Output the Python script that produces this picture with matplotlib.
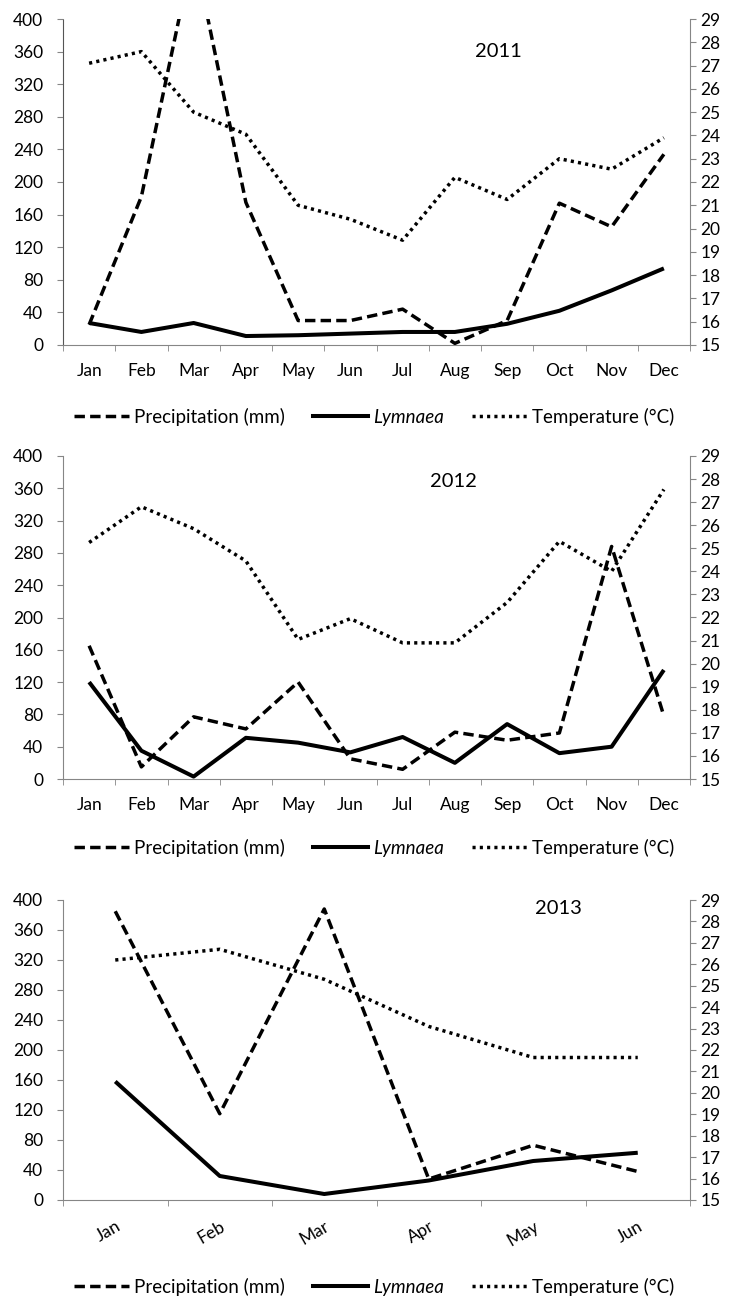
import matplotlib
matplotlib.use("Agg")
import matplotlib.pyplot as plt
from matplotlib.lines import Line2D
import numpy as np

plt.rcParams['font.family'] = ['Lato', 'DejaVu Sans']

months12 = ['Jan', 'Feb', 'Mar', 'Apr', 'May', 'Jun', 'Jul', 'Aug', 'Sep', 'Oct', 'Nov', 'Dec']
months6 = ['Jan', 'Feb', 'Mar', 'Apr', 'May', 'Jun']

precip_2011 = [25, 182, 485, 175, 30, 30, 44, 2, 30, 174, 145, 234]
lymnaea_2011 = [27, 16, 27, 11, 12, 14, 16, 16, 26, 42, 67, 94]
temp_2011 = [27.1, 27.6, 25.0, 24.05, 21.0, 20.4, 19.5, 22.2, 21.25, 23.0, 22.55, 23.9]

precip_2012 = [165, 15, 77, 62, 120, 25, 12, 58, 48, 57, 288, 78]
lymnaea_2012 = [120, 35, 3, 51, 45, 33, 52, 20, 68, 32, 40, 135]
temp_2012 = [25.25, 26.8, 25.85, 24.45, 21.05, 21.95, 20.9, 20.9, 22.65, 25.3, 24.0, 27.55]

precip_2013 = [385, 115, 388, 28, 73, 38]
lymnaea_2013 = [158, 32, 8, 26, 52, 63]
temp_2013 = [26.2, 26.7, 25.3, 23.1, 21.65, 21.65]

W, H = 731, 1297
fig = plt.figure(figsize=(W / 100, H / 100), dpi=100)

GRAY = '#868686'
LW_DASH = 2.5
LW_SOLID = 2.9
LW_DOT = 2.5
DASH = (0, (3.0, 1.5))
DOT = (0, (0.9, 1.2))

panels = [
    dict(months=months12, p=precip_2011, l=lymnaea_2011, t=temp_2011, year='2011',
         top=19, bot=345, leg=417, ytxt=(0.694, 0.90), rot=0),
    dict(months=months12, p=precip_2012, l=lymnaea_2012, t=temp_2012, year='2012',
         top=456, bot=779, leg=848, ytxt=(0.622, 0.92), rot=0),
    dict(months=months6, p=precip_2013, l=lymnaea_2013, t=temp_2013, year='2013',
         top=900, bot=1200, leg=1287, ytxt=(0.79, 0.973), rot=30),
]

L, R = 63, 690
FS = 12.5
FS_LEG = 13.5
FS_YEAR = 14.5

for i, pn in enumerate(panels):
    ax = fig.add_axes([L / W, (H - pn['bot']) / H, (R - L) / W, (pn['bot'] - pn['top']) / H])
    n = len(pn['months'])
    x = np.arange(n)
    ax.plot(x, pn['p'], color='black', lw=LW_DASH, linestyle=DASH, dash_capstyle='butt', zorder=3)
    ax.plot(x, pn['l'], color='black', lw=LW_SOLID, solid_capstyle='butt', zorder=3)
    ax.set_xlim(-0.5, n - 0.5)
    ax.set_ylim(0, 400)
    ax.set_yticks(np.arange(0, 401, 40))
    ax.set_xticks(x)
    if pn['rot']:
        ax.set_xticklabels(pn['months'], rotation=pn['rot'], ha='right', rotation_mode='anchor')
    else:
        ax.set_xticklabels(pn['months'])
    ax.set_xticks(np.arange(-0.5, n, 1.0), minor=True)
    ax.tick_params(axis='x', which='major', length=0, pad=13 if not pn['rot'] else 13, labelsize=FS)
    ax.tick_params(axis='x', which='minor', length=4, color=GRAY, direction='out')
    ax.tick_params(axis='y', length=4.3, color=GRAY, labelsize=FS, pad=10)
    for s in ['top', 'right']:
        ax.spines[s].set_visible(False)
    ax.spines['bottom'].set_color(GRAY)
    ax.spines['left'].set_color(GRAY)
    if i == 0:
        ax.spines['left'].set_linestyle((0, (1, 1)))
        ax.spines['left'].set_color('#555555')
    ax.patch.set_alpha(0)

    ax2 = ax.twinx()
    ax2.plot(x, pn['t'], color='black', lw=LW_DOT, linestyle=DOT, dash_capstyle='butt', zorder=3)
    ax2.set_ylim(15, 29)
    ax2.set_yticks(np.arange(15, 30, 1))
    ax2.tick_params(axis='y', length=4.3, color=GRAY, labelsize=FS, pad=3)
    for s in ['top', 'left', 'bottom']:
        ax2.spines[s].set_visible(False)
    ax2.spines['right'].set_color(GRAY)

    ax.text(pn['ytxt'][0], pn['ytxt'][1], pn['year'], transform=ax.transAxes,
            fontsize=FS_YEAR, ha='center', va='center')

    handles = [
        Line2D([], [], color='black', lw=LW_DASH, linestyle=DASH, dash_capstyle='butt'),
        Line2D([], [], color='black', lw=LW_SOLID),
        Line2D([], [], color='black', lw=LW_DOT, linestyle=DOT, dash_capstyle='butt'),
    ]
    labels = ['Precipitation (mm)', 'Lymnaea', 'Temperature (°C)']
    leg = fig.legend(handles, labels, loc='center', bbox_to_anchor=(374 / W, 1 - pn['leg'] / H),
                     ncol=3, frameon=False, fontsize=FS_LEG, handlelength=2.95, handletextpad=0.25,
                     columnspacing=1.5, borderpad=0, borderaxespad=0)
    leg.get_texts()[1].set_fontstyle('italic')

fig.savefig('out.png', dpi=100)
